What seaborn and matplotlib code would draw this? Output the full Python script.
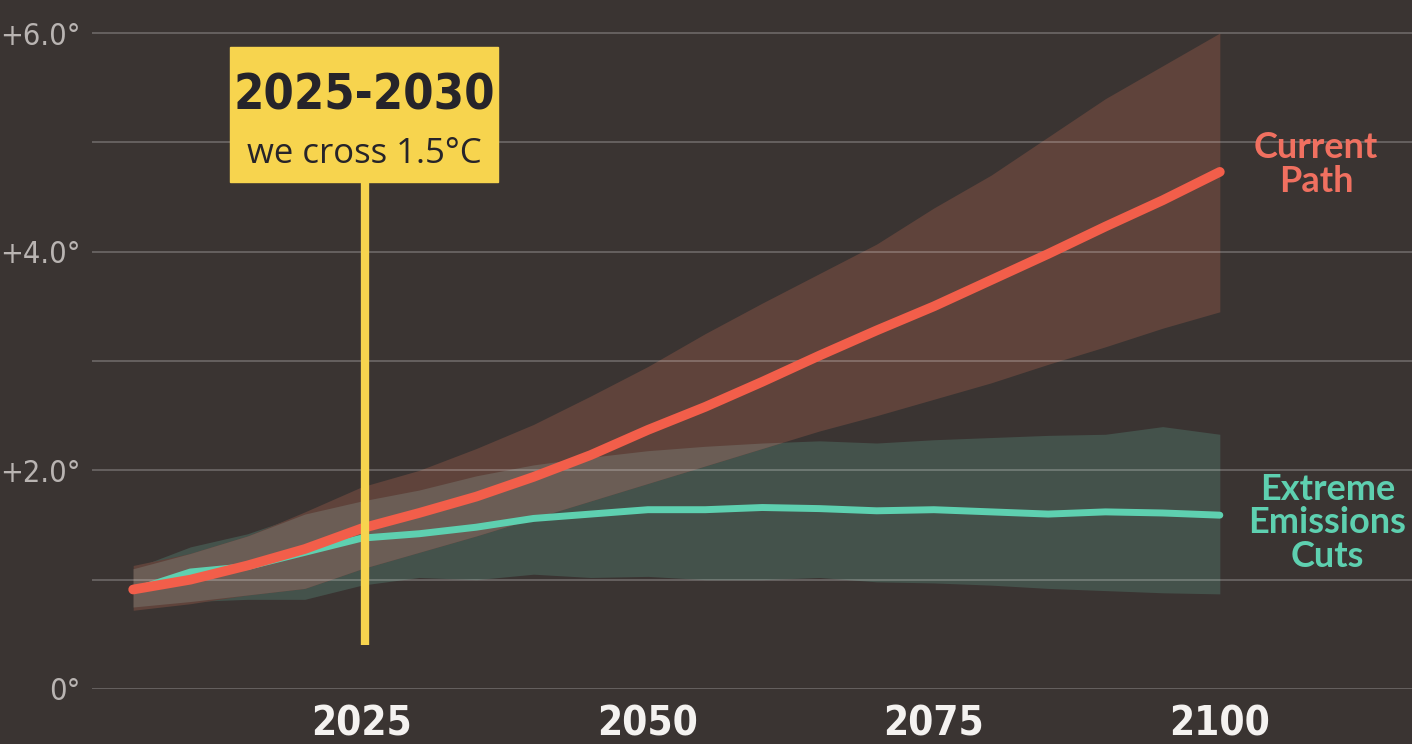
import matplotlib.pyplot as plt
import seaborn as sns
import numpy as np
import pandas as pd
from matplotlib.patches import Rectangle


# ---------------- DATA ----------------
years = [2005, 2010, 2015, 2020, 2025, 2030, 2035, 2040, 2045, 2050,
         2055, 2060, 2065, 2070, 2075, 2080, 2085, 2090, 2095, 2100]

current_mid = [0.91, 1.00, 1.13, 1.28, 1.47, 1.61, 1.76, 1.94, 2.14, 2.37,
               2.58, 2.81, 3.05, 3.28, 3.50, 3.74, 3.98, 4.23, 4.47, 4.73]
current_lo = [0.72, 0.78, 0.86, 0.92, 1.10, 1.25, 1.40, 1.56, 1.72, 1.88,
              2.04, 2.20, 2.36, 2.50, 2.65, 2.80, 2.97, 3.13, 3.30, 3.45]
current_hi = [1.13, 1.24, 1.40, 1.62, 1.85, 2.00, 2.20, 2.42, 2.68, 2.95,
              3.25, 3.53, 3.80, 4.07, 4.40, 4.70, 5.05, 5.40, 5.70, 6.00]

cuts_mid = [0.90, 1.07, 1.12, 1.25, 1.38, 1.42, 1.48, 1.56, 1.60, 1.64,
            1.64, 1.66, 1.65, 1.63, 1.64, 1.62, 1.60, 1.62, 1.61, 1.59]
cuts_lo = [0.75, 0.80, 0.82, 0.82, 0.95, 1.02, 1.00, 1.05, 1.02, 1.03,
           1.00, 1.00, 1.02, 0.98, 0.97, 0.95, 0.92, 0.90, 0.88, 0.87]
cuts_hi = [1.10, 1.30, 1.42, 1.60, 1.72, 1.82, 1.95, 2.05, 2.12, 2.18,
           2.22, 2.25, 2.27, 2.25, 2.28, 2.30, 2.32, 2.33, 2.40, 2.33]

x_ticks = [2025, 2050, 2075, 2100]
y_ticks = [0, 2, 4, 6]
y_tick_labels = ["0°", "+2.0°", "+4.0°", "+6.0°"]

cross_year = 2025.3

# ---------------- COLOURS ----------------
BG = "#3a3432"
GRID = "#ffffff"
RED_LINE = "#f25e4a"
GREEN_LINE = "#5ed0b0"
RED_BAND = "#5f433b"
GREEN_BAND = "#44524b"
OVERLAP = "#6b5d55"
YELLOW = "#f7d44e"

sns.set_style("dark", {"axes.facecolor": BG, "figure.facecolor": BG})
plt.rcParams["font.family"] = ["DejaVu Sans"]
plt.rcParams["font.stretch"] = "condensed"

fig = plt.figure(figsize=(14.12, 7.44), dpi=100, facecolor=BG)
ax = fig.add_axes([92 / 1412, 55 / 744, 1320 / 1412, 689 / 744])
ax.set_facecolor(BG)

yrs = np.array(years)
c_lo, c_hi = np.array(current_lo), np.array(current_hi)
g_lo, g_hi = np.array(cuts_lo), np.array(cuts_hi)

# ---------------- BANDS ----------------
ax.fill_between(yrs, g_lo, g_hi, color=GREEN_BAND, lw=0, zorder=1)
ax.fill_between(yrs, c_lo, c_hi, color=RED_BAND, lw=0, zorder=1.1)
ov_lo = np.maximum(c_lo, g_lo)
ov_hi = np.minimum(c_hi, g_hi)
ax.fill_between(yrs, ov_lo, ov_hi, where=ov_hi > ov_lo, interpolate=True,
                color=OVERLAP, lw=0, zorder=1.2)

# ---------------- CENTRE LINES ----------------
df = pd.DataFrame({
    "year": years * 2,
    "temp": cuts_mid + current_mid,
    "path": ["Extreme Emissions Cuts"] * len(years) + ["Current Path"] * len(years),
})
sns.lineplot(data=df, x="year", y="temp", hue="path",
             palette={"Extreme Emissions Cuts": GREEN_LINE, "Current Path": RED_LINE},
             legend=False, ax=ax, zorder=3, solid_capstyle="round")
ax.lines[0].set_linewidth(5)
ax.lines[1].set_linewidth(7)

# ---------------- AXES ----------------
ax.set_xlim(2001.4, 2116.8)
ax.set_ylim(0, 6.302)
ax.set_yticks(y_ticks)
ax.set_yticks([1, 3, 5], minor=True)
ax.set_yticklabels(y_tick_labels, fontsize=22, color="#b9b4b2")
ax.set_xticks(x_ticks)
ax.set_xticklabels([str(t) for t in x_ticks], fontsize=29, color="#f4f2f0",
                   fontweight="bold")
ax.tick_params(axis="both", which="both", length=0)
ax.tick_params(axis="y", pad=8)
ax.tick_params(axis="x", pad=11)
ax.grid(False)
ax.grid(True, axis="y", which="both", color=GRID, alpha=0.22, lw=1.4, zorder=2)
ax.set_axisbelow(False)
ax.set_xlabel("")
ax.set_ylabel("")
for s in ax.spines.values():
    s.set_visible(False)

# ---------------- 1.5°C CALLOUT ----------------
ax.plot([cross_year, cross_year], [0.4, 4.64], color=YELLOW, lw=6,
        zorder=5, solid_capstyle="butt")
ax.add_patch(Rectangle((2013.5, 4.64), 23.4, 1.23, color=YELLOW, zorder=6))
ax.text(2025.2, 5.43, "2025-2030", ha="center", va="center", fontsize=35,
        fontweight="bold", color="#26242a", zorder=7)
ax.text(2025.2, 4.89, "we cross 1.5°C", ha="center", va="center", fontsize=25,
        family=["Open Sans", "DejaVu Sans"], fontstretch="normal",
        color="#26242a", zorder=7)

# ---------------- SERIES LABELS ----------------
ax.text(2108.4, 4.80, "Current\nPath", ha="center", va="center", fontsize=26,
        fontweight="bold", family=["Lato", "DejaVu Sans"], fontstretch="normal",
        color="#f07060", linespacing=1.05, zorder=7)
ax.text(2109.4, 1.52, "Extreme\nEmissions\nCuts", ha="center", va="center",
        fontsize=26, fontweight="bold", family=["Lato", "DejaVu Sans"],
        fontstretch="normal", color=GREEN_LINE, linespacing=1.02, zorder=7)

plt.savefig("out.png", dpi=100, facecolor=BG)
plt.close()
